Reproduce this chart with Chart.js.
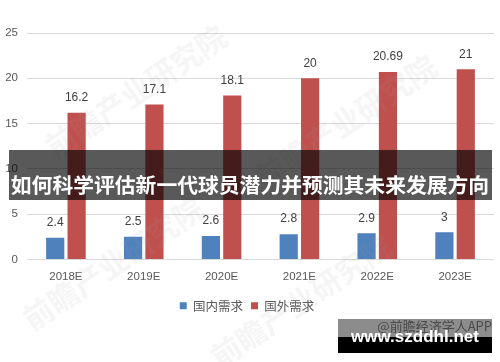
<!DOCTYPE html>
<html><head><meta charset="utf-8">
<script src="https://cdn.jsdelivr.net/npm/chart.js@4.4.0/dist/chart.umd.min.js"></script>
<style>
html,body{margin:0;padding:0;background:#fff;}
#wrap{position:relative;width:500px;height:362px;overflow:hidden;background:#fff;}
#c{position:absolute;left:0;top:0;}
.wm{position:absolute;font-family:"Noto Sans CJK SC";font-weight:bold;color:rgba(160,160,160,0.10);font-size:30px;white-space:nowrap;pointer-events:none;transform:translate(-50%,-50%) rotate(-34deg);}
#banner{position:absolute;left:9px;top:150px;width:483px;height:50px;background:rgba(0,0,0,0.65);}
#bannerText{position:absolute;left:0px;top:172px;width:500px;font-family:"Noto Sans CJK SC";font-weight:bold;font-size:20.8px;line-height:24px;color:#fff;white-space:nowrap;text-align:center;}
#src{position:absolute;left:338px;top:318px;width:154px;text-align:right;font-family:"Noto Sans CJK SC";font-size:13px;line-height:16px;color:#888;}
#boxTop{position:absolute;left:338px;top:319px;width:154px;height:18px;background:rgba(0,0,0,0.45);}
#boxBot{position:absolute;left:338px;top:337px;width:154px;height:16px;background:#000;}
#site{position:absolute;left:338px;top:327px;width:154px;text-align:center;font-family:"Liberation Sans";font-weight:bold;font-size:17px;line-height:20px;color:#fff;}
</style></head>
<body>
<div id="wrap">
<canvas id="c" width="500" height="362"></canvas>
<div class="wm" style="left:135px;top:90px;">前瞻产业研究院</div>
<div class="wm" style="left:112px;top:262px;">前瞻产业研究院</div>
<div class="wm" style="left:345px;top:120px;">前瞻产业研究院</div>
<div class="wm" style="left:300px;top:300px;">前瞻产业研究院</div>
<div id="banner"></div>
<div id="bannerText">如何科学评估新一代球员潜力并预测其未来发展方向</div>
<div id="src">@前瞻经济学人APP</div>
<div id="boxTop"></div>
<div id="boxBot"></div>
<div id="site">www.szddhl.net</div>
</div>
<script>
const categories = ['2018E','2019E','2020E','2021E','2022E','2023E'];
const domestic = [2.4, 2.5, 2.6, 2.8, 2.9, 3];
const foreign = [16.2, 17.1, 18.1, 20, 20.69, 21];
const seriesNames = ['国内需求','国外需求'];
const yMax = 25, yStep = 5;

const valueLabels = {
  id: 'valueLabels',
  afterDatasetsDraw(chart) {
    const ctx = chart.ctx;
    ctx.save();
    ctx.font = '12px "Liberation Sans", Arial, sans-serif';
    ctx.fillStyle = '#404040';
    ctx.textAlign = 'center';
    ctx.textBaseline = 'middle';
    chart.data.datasets.forEach((ds, i) => {
      const meta = chart.getDatasetMeta(i);
      meta.data.forEach((bar, j) => {
        ctx.fillText(String(ds.data[j]), bar.x, bar.y - 15);
      });
    });
    ctx.restore();
  }
};

new Chart(document.getElementById('c'), {
  type: 'bar',
  data: {
    labels: categories,
    datasets: [
      {label: seriesNames[0], data: domestic, backgroundColor: '#4f81bd', categoryPercentage: 0.55, barPercentage: 0.85},
      {label: seriesNames[1], data: foreign, backgroundColor: '#c0504d', categoryPercentage: 0.55, barPercentage: 0.85}
    ]
  },
  options: {
    responsive: false,
    animation: false,
    layout: {padding: {top: 33, right: 6, left: 0, bottom: 40}},
    plugins: {
      tooltip: {enabled: false},
      legend: {
        position: 'bottom',
        labels: {
          boxWidth: 7, boxHeight: 7, padding: 8,
          color: '#595959',
          font: {family: '"Noto Sans CJK SC"', size: 12.5}
        }
      }
    },
    scales: {
      x: {
        grid: {display: false, drawTicks: false},
        border: {display: false},
        ticks: {color: '#595959', font: {family: '"Liberation Sans"', size: 11.5}, padding: 10},
        afterFit: s => { s.height = 32; }
      },
      y: {
        min: 0, max: yMax,
        ticks: {stepSize: yStep, color: '#595959', font: {family: '"Liberation Sans"', size: 11.5}, padding: 9},
        grid: {color: '#d9d9d9', drawTicks: false},
        border: {display: false},
        afterFit: s => { s.width = 27; }
      }
    }
  },
  plugins: [valueLabels]
});
</script>
</body></html>
